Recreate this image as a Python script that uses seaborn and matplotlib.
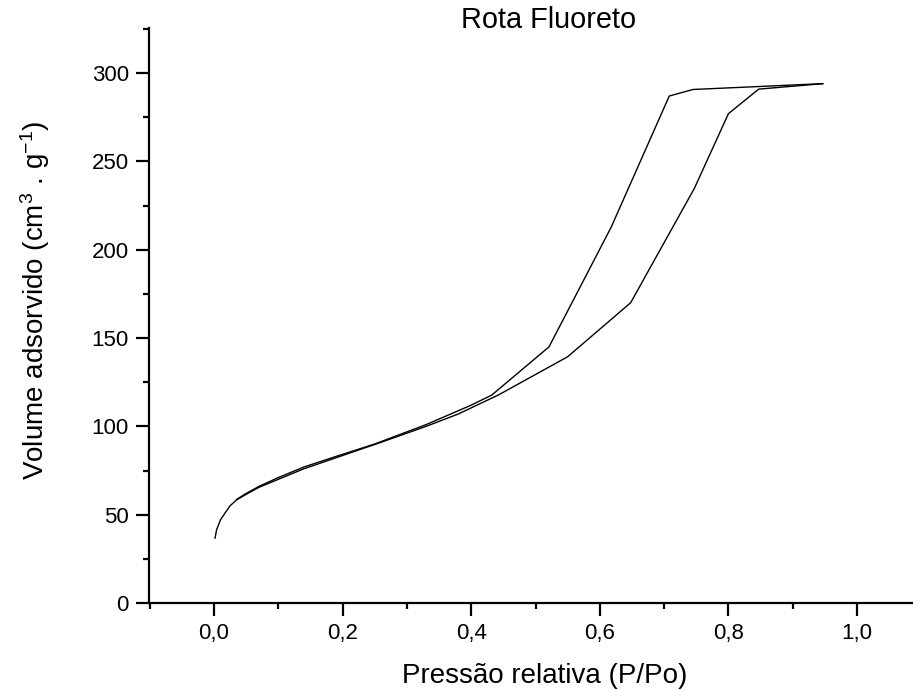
import matplotlib
matplotlib.use("Agg")
import matplotlib.pyplot as plt
import seaborn as sns
import pandas as pd
from matplotlib.ticker import MultipleLocator, FuncFormatter

# Adsorption branch
ads_p = [0.0016, 0.004, 0.01, 0.017, 0.025, 0.035, 0.05, 0.07, 0.1, 0.14, 0.2, 0.26, 0.33, 0.38,
         0.442, 0.55, 0.648, 0.747, 0.80, 0.847, 0.947]
ads_v = [36.6, 41.3, 47.0, 50.8, 55.0, 58.3, 61.5, 65.5, 70.0, 76.0, 83.5, 91.0, 100.0, 107.0,
         117.7, 139.4, 170.0, 234.7, 277.0, 290.9, 294.0]
# Desorption branch
des_p = [0.947, 0.745, 0.708, 0.618, 0.561, 0.521, 0.432, 0.40, 0.33, 0.25, 0.19, 0.14, 0.10, 0.07, 0.05, 0.035]
des_v = [294.0, 290.7, 287.0, 213.0, 173.0, 145.0, 117.7, 112.0, 101.0, 90.0, 83.0, 77.0, 71.0, 66.0, 62.0, 58.6]

title = "Rota Fluoreto"
xlabel = "Pressão relativa (P/Po)"
ylabel = r"Volume adsorvido (cm$^3$ . g$^{-1}$)"

sns.set_style("ticks")
plt.rcParams['font.family'] = ['Liberation Sans', 'DejaVu Sans']
plt.rcParams['mathtext.fontset'] = 'custom'
plt.rcParams['mathtext.rm'] = 'Liberation Sans'
plt.rcParams['mathtext.it'] = 'Liberation Sans'
plt.rcParams['mathtext.default'] = 'regular'
plt.rcParams['text.color'] = 'black'
plt.rcParams['axes.labelcolor'] = 'black'

fig = plt.figure(figsize=(9.13, 6.9), dpi=100)
ax = fig.add_axes([149/913, 87/690, (913-149)/913, (603-28)/690])

df_a = pd.DataFrame({"p": ads_p, "v": ads_v})
df_d = pd.DataFrame({"p": des_p, "v": des_v})
sns.lineplot(data=df_a, x="p", y="v", ax=ax, color="black", lw=1.0, sort=False)
sns.lineplot(data=df_d, x="p", y="v", ax=ax, color="black", lw=1.0, sort=False)

ax.set_xlim(-0.101, 1.087)
ax.set_ylim(0, 325.5)
ax.xaxis.set_major_locator(MultipleLocator(0.2))
ax.xaxis.set_minor_locator(MultipleLocator(0.1))
ax.yaxis.set_major_locator(MultipleLocator(50))
ax.yaxis.set_minor_locator(MultipleLocator(25))
ax.xaxis.set_major_formatter(FuncFormatter(lambda v, p: f"{v:.1f}".replace(".", ",")))
ax.yaxis.set_major_formatter(FuncFormatter(lambda v, p: f"{v:.0f}"))

for s in ["top", "right"]:
    ax.spines[s].set_visible(False)
for s in ["left", "bottom"]:
    ax.spines[s].set_linewidth(1.6)
    ax.spines[s].set_color("black")
ax.tick_params(which="major", direction="out", length=9.5, width=1.6, labelsize=16, pad=5, colors="black")
ax.tick_params(which="minor", direction="out", length=4.5, width=1.6, colors="black")

ax.set_xlabel(xlabel, fontsize=20, color="black")
ax.set_ylabel(ylabel, fontsize=20, color="black")
ax.xaxis.set_label_coords((545-149)/764, -0.105)
ax.yaxis.set_label_coords((52-149)/764, (603-300)/575)
fig.text(549/913, 1-20/690, title, ha="center", va="center", fontsize=20.8, color="black")

fig.savefig("out.png", dpi=100)
